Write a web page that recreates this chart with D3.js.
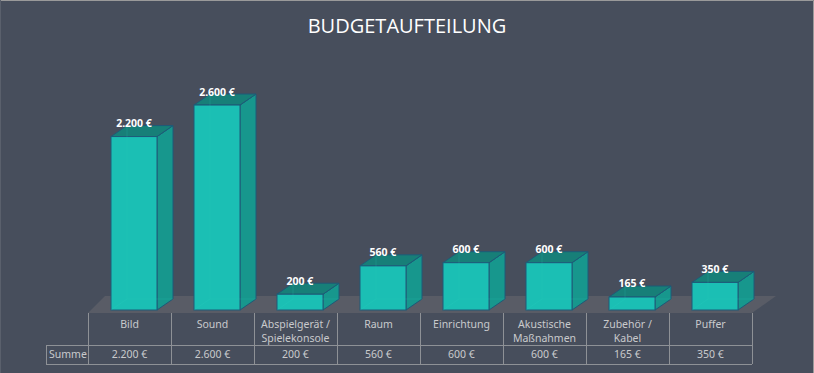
<!DOCTYPE html>
<html>
<head>
<meta charset="utf-8">
<script src="https://cdn.jsdelivr.net/npm/d3@7"></script>
<style>
  body { margin: 0; background: #474e5c; }
  svg { display: block; }
</style>
</head>
<body>
<div id="chart"></div>
<script>
// chart data
const categories = ["Bild", "Sound", "Abspielgerät /\nSpielekonsole", "Raum", "Einrichtung", "Akustische\nMaßnahmen", "Zubehör /\nKabel", "Puffer"];
const values = [2200, 2600, 200, 560, 600, 600, 165, 350];
const valueLabels = ["2.200 €", "2.600 €", "200 €", "560 €", "600 €", "600 €", "165 €", "350 €"];
const rowLabel = "Summe";
const title = "BUDGETAUFTEILUNG";

const width = 814, height = 373;
const depth = { dx: 16, dy: -11 };
const barWidth = 46;
const font = "'Noto Sans', 'Open Sans', sans-serif";

const svg = d3.select("#chart").append("svg")
  .attr("width", width)
  .attr("height", height);

// background + border (top and right edges only)
svg.append("rect")
  .attr("width", width).attr("height", height)
  .attr("fill", "#474e5c");
svg.append("path")
  .attr("d", `M0,0.5H${width - 0.5}V${height}`)
  .attr("fill", "none")
  .attr("stroke", "#9a9a9a");
svg.append("path")
  .attr("d", `M0.5,0V${height}`)
  .attr("stroke", "#5a606c");

svg.append("text")
  .attr("x", width / 2)
  .attr("y", 33)
  .attr("text-anchor", "middle")
  .attr("font-family", "'Open Sans', sans-serif")
  .attr("font-size", 20)
  .attr("fill", "#ffffff")
  .text(title);

// scales
const xScale = d3.scaleBand()
  .domain(categories)
  .range([88, 752])
  .padding(0);

const yScale = d3.scaleLinear()
  .domain([0, 3000])
  .range([310, 73.5]);

// floor
const [x0, x1] = xScale.range();
const floorFront = 313, floorBack = 296;
svg.append("path")
  .attr("d", `M${x0},${floorFront}L${x1},${floorFront}L${x1 + 24},${floorBack}L${x0 + 17},${floorBack}Z`)
  .attr("fill", "#595c66");

// bars (3D boxes)
const bars = svg.selectAll("g.bar")
  .data(values.map((v, i) => ({ cat: categories[i], value: v, label: valueLabels[i] })))
  .join("g")
  .attr("class", "bar");

const barLeft = d => xScale(d.cat) + xScale.bandwidth() / 2 + 4.5 - barWidth / 2;
const barRight = d => barLeft(d) + barWidth;
const barTop = d => yScale(d.value);
const base = yScale(0);

// side face
bars.append("path")
  .attr("d", d => `M${barRight(d)},${barTop(d)}L${barRight(d) + depth.dx},${barTop(d) + depth.dy}L${barRight(d) + depth.dx},${base + depth.dy}L${barRight(d)},${base}Z`)
  .attr("fill", "#17978d")
  .attr("stroke", "#1e5a78")
  .attr("stroke-width", 1);

// top face
bars.append("path")
  .attr("d", d => `M${barLeft(d)},${barTop(d)}L${barLeft(d) + depth.dx},${barTop(d) + depth.dy}L${barRight(d) + depth.dx},${barTop(d) + depth.dy}L${barRight(d)},${barTop(d)}Z`)
  .attr("fill", "#177f78")
  .attr("stroke", "#1e5a78")
  .attr("stroke-width", 1);

// front face
bars.append("rect")
  .attr("x", barLeft)
  .attr("y", barTop)
  .attr("width", barWidth)
  .attr("height", d => base - barTop(d))
  .attr("fill", "#1bbfb4")
  .attr("stroke", "#1e5a78")
  .attr("stroke-width", 1);

// faint hidden edges (the boxes are slightly transparent)
bars.append("path")
  .attr("d", d => `M${barLeft(d)},${base}L${barLeft(d) + depth.dx},${base + depth.dy}L${barRight(d) + depth.dx},${base + depth.dy}M${barLeft(d) + depth.dx},${base + depth.dy}L${barLeft(d) + depth.dx},${barTop(d) + depth.dy}`)
  .attr("fill", "none")
  .attr("stroke", "#2ad0c4")
  .attr("stroke-opacity", 0.18);

bars.append("text")
  .attr("x", d => barLeft(d) + barWidth / 2)
  .attr("y", d => barTop(d) - 9.5)
  .attr("text-anchor", "middle")
  .attr("font-family", font)
  .attr("font-size", 10.5)
  .attr("font-weight", "bold")
  .attr("fill", "#ffffff")
  .text(d => d.label);

// data table
const rowTop = 313, rowMid = 345.5, rowBottom = 364, labelLeft = 46;
const lineColor = "#8e9196";
const table = svg.append("g")
  .attr("stroke", lineColor)
  .attr("stroke-width", 1)
  .attr("shape-rendering", "crispEdges");

table.append("line").attr("x1", labelLeft).attr("x2", x1).attr("y1", rowMid).attr("y2", rowMid);
table.append("line").attr("x1", labelLeft).attr("x2", x1).attr("y1", rowBottom).attr("y2", rowBottom);
table.append("line").attr("x1", labelLeft).attr("x2", labelLeft).attr("y1", rowMid).attr("y2", rowBottom);

table.selectAll("line.col")
  .data(categories.map(c => xScale(c)).concat([x1]))
  .join("line")
  .attr("class", "col")
  .attr("x1", d => d).attr("x2", d => d)
  .attr("y1", rowTop).attr("y2", rowBottom);

const textColor = "#c9cacc";

svg.selectAll("text.cat")
  .data(categories)
  .join("text")
  .attr("class", "cat")
  .attr("x", d => xScale(d) + xScale.bandwidth() / 2)
  .attr("y", 328)
  .attr("text-anchor", "middle")
  .attr("font-family", font)
  .attr("font-size", 10.5)
  .attr("fill", textColor)
  .each(function (d) {
    const lines = d.split("\n");
    d3.select(this).selectAll("tspan")
      .data(lines)
      .join("tspan")
      .attr("x", xScale(d) + xScale.bandwidth() / 2)
      .attr("dy", (l, i) => i === 0 ? 0 : 14)
      .text(l => l);
  });

svg.selectAll("text.val")
  .data(valueLabels)
  .join("text")
  .attr("class", "val")
  .attr("x", (d, i) => xScale(categories[i]) + xScale.bandwidth() / 2)
  .attr("y", 358)
  .attr("text-anchor", "middle")
  .attr("font-family", font)
  .attr("font-size", 10.5)
  .attr("fill", textColor)
  .text(d => d);

svg.append("text")
  .attr("x", labelLeft + 3)
  .attr("y", 358)
  .attr("font-family", font)
  .attr("font-size", 10.5)
  .attr("fill", textColor)
  .text(rowLabel);
</script>
</body>
</html>
